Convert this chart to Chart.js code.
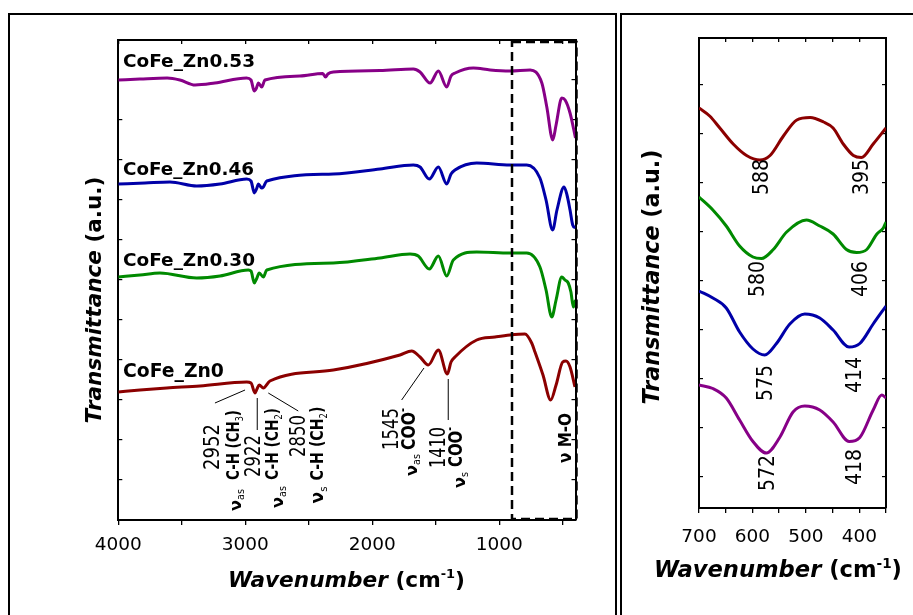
<!DOCTYPE html>
<html>
<head>
<meta charset="utf-8">
<script src="https://cdn.jsdelivr.net/npm/chart.js@4"></script>
<style>
  html, body { margin: 0; padding: 0; background: #fff; }
  #wrap { position: relative; width: 913px; height: 615px; overflow: hidden; }
  .frame { position: absolute; border: 2px solid #000; box-sizing: border-box; }
  canvas { position: absolute; top: 0; }
</style>
</head>
<body>
<div id="wrap">
  <div class="frame" style="left:8px;top:13px;width:609px;height:700px"></div>
  <div class="frame" style="left:620px;top:13px;width:400px;height:700px"></div>
  <canvas id="full" width="620" height="615" style="left:0"></canvas>
  <canvas id="zoom" width="293" height="615" style="left:620px"></canvas>
</div>
<script>
// full range spectra, wavenumber (cm-1) and transmittance (a.u.)
const zn053Wn = [4000, 3830, 3615, 3515, 3395, 3240, 2990, 2955, 2930, 2912, 2897, 2871, 2845, 2570, 2390, 2368, 2350, 2307, 1940, 1677, 1624, 1545, 1480, 1414, 1380, 1348, 1204, 1072, 915, 757, 665, 626, 579, 553, 508, 482, 443, 400];
const zn053T = [440, 441, 442, 440, 435, 437, 442, 440, 429, 432, 437, 433, 440, 444, 446.5, 443, 446, 448, 449.5, 451, 448, 437, 449, 433, 444, 447, 452, 450, 449, 450, 437, 413, 380, 395, 422, 420, 407, 382];

const zn046Wn = [4000, 3790, 3593, 3383, 3199, 2989, 2955, 2929, 2912, 2897, 2872, 2858, 2831, 2307, 1939, 1677, 1624, 1551, 1480, 1414, 1380, 1349, 1178, 916, 784, 680, 632, 580, 546, 490, 467, 443, 422, 400];
const zn046T = [336, 337, 338, 334, 336, 341, 339, 327, 331, 336, 332, 333, 339, 346, 351, 355, 353, 341, 353, 336, 346, 350, 357, 355, 355, 342, 320, 290, 310, 333, 325, 310, 295, 292];

const zn030Wn = [4000, 3829, 3672, 3383, 3199, 2976, 2955, 2929, 2912, 2890, 2858, 2831, 2307, 1939, 1703, 1638, 1551, 1480, 1414, 1362, 1178, 916, 784, 680, 632, 587, 553, 508, 483, 457, 436, 417, 400];
const zn030T = [243, 245, 247, 242, 244, 250, 249, 237, 241, 247, 243, 250, 257, 262, 266, 264, 251, 264, 244, 260, 268, 267, 267, 253, 230, 203, 220, 243, 240, 237, 228, 213, 220];

const zn0Wn = [4000, 3829, 3619, 3357, 2989, 2955, 2924, 2908, 2890, 2858, 2806, 2307, 1782, 1690, 1624, 1559, 1480, 1409, 1380, 1349, 1178, 1034, 916, 798, 745, 719, 656, 595, 553, 501, 475, 443, 404];
const zn0T = [128, 130, 132, 134, 138, 137, 127, 131, 135, 132, 139, 150, 165, 169, 163, 155, 170, 146, 158, 163, 180, 183, 185, 186, 177, 168, 145, 120, 135, 158, 159, 153, 133];

// M-O region (700-350 cm-1)
const mo0Wn = [700, 680, 661, 636, 611, 586, 567, 542, 517, 492, 467, 449, 430, 411, 396, 374, 350];
const mo0T = [400, 392, 380, 364, 352.5, 348, 352.5, 372, 388, 390.5, 386, 380, 364, 352.5, 350.5, 364, 380];
const mo030Wn = [700, 674, 649, 624, 599, 583, 561, 536, 499, 474, 449, 424, 405, 386, 367, 355, 350];
const mo030T = [311, 298, 282, 262, 251, 249.5, 258.5, 276, 288, 282, 274, 258.5, 255.5, 258.5, 274, 280, 286];
const mo046Wn = [700, 674, 649, 624, 599, 577, 555, 530, 502, 474, 449, 419, 399, 374, 350];
const mo046T = [217, 210, 200, 176, 159, 153, 164.5, 184, 194, 190, 178, 161, 164.5, 184, 202];
const mo053Wn = [700, 674, 649, 624, 599, 574, 549, 524, 502, 474, 449, 419, 399, 374, 358, 350];
const mo053T = [123, 119.5, 110, 88, 66.5, 55, 70.5, 96, 102, 98, 86, 66.5, 70.5, 98, 113, 110];

const sampleNames = ['CoFe_Zn0', 'CoFe_Zn0.30', 'CoFe_Zn0.46', 'CoFe_Zn0.53'];

// axis ticks
const fullTicks = [4000, 3500, 3000, 2500, 2000, 1500, 1000, 500];
const fullTickLabels = [4000, 3000, 2000, 1000];
const zoomTicks = [700, 650, 600, 550, 500, 450, 400, 350];
const zoomTickLabels = [700, 600, 500, 400];
const fullYTicks = [40, 80, 120, 160, 200, 240, 280, 320, 360, 400, 440];
const zoomYTicks = [31, 80, 129, 178, 227, 276, 325, 374, 423];

const colors = ['#8b0000', '#008a00', '#0000a8', '#870087'];
const FONT = '"DejaVu Sans", sans-serif';

function pts(wn, t) {
  return wn.map((w, i) => ({ x: w, y: t[i] }));
}

function line(wn, t, color) {
  return {
    data: pts(wn, t),
    borderColor: color,
    borderWidth: 3,
    pointRadius: 0,
    cubicInterpolationMode: 'monotone'
  };
}

// text helpers (sub / superscripts, rotated labels)
const N = t => ({ t: t });
const B = t => ({ t: t, weight: 'bold' });
const I = t => ({ t: t, weight: 'bold', style: 'italic' });
const SUB = t => ({ t: t, sub: true });
const SUP = t => ({ t: t, sup: true, weight: 'bold' });

function setFont(ctx, s, size) {
  const sz = (s.sub || s.sup) ? size * 0.6 : size;
  ctx.font = (s.style || 'normal') + ' ' + (s.weight || 'normal') + ' ' + sz + 'px ' + FONT;
}

function richWidth(ctx, segs, size) {
  let w = 0;
  segs.forEach(s => { setFont(ctx, s, size); w += ctx.measureText(s.t).width; });
  return w;
}

// len = text length on screen, hgt = cap height (optional, stretches glyphs)
function drawRich(ctx, segs, x, y, len, rotate, align, hgt) {
  const size = 20 * len / richWidth(ctx, segs, 20);
  const w = richWidth(ctx, segs, size);
  const k = hgt ? hgt / (0.73 * size) : 1;
  ctx.save();
  ctx.translate(x, y);
  if (rotate) ctx.rotate(-Math.PI / 2);
  ctx.scale(1, k);
  ctx.fillStyle = '#000';
  ctx.textAlign = 'left';
  ctx.textBaseline = 'alphabetic';
  let cx = align === 'left' ? 0 : -w / 2;
  const base = size * 0.36;
  segs.forEach(s => {
    setFont(ctx, s, size);
    const dy = s.sub ? size * 0.22 : (s.sup ? -size * 0.42 : 0);
    ctx.fillText(s.t, cx, base + dy);
    cx += ctx.measureText(s.t).width;
  });
  ctx.restore();
}

// annotations: [wavenumber, T, length, cap height, segments]
const fullNotes = [
  [3265, 73, 46, 15, [N('2952')]],
  [3097, 75, 70, 13, [B('C-H (CH'), SUB('3'), B(')')]],
  [3081, 20, 22, 0, [B('ν'), SUB('as')]],
  [2939, 64, 42, 15, [N('2922')]],
  [2792, 76, 72, 13, [B('C-H (CH'), SUB('2'), B(')')]],
  [2750, 23, 22, 0, [B('ν'), SUB('as')]],
  [2585, 84, 42, 15, [N('2850')]],
  [2435, 76.5, 74, 13, [B('C-H (CH'), SUB('2'), B(')')]],
  [2435, 25, 17, 0, [B('ν'), SUB('s')]],
  [1853, 91, 42, 15, [N('1545')]],
  [1719, 91, 42, 14, [B('COO'), SUP('-')]],
  [1696, 55, 22, 0, [B('ν'), SUB('as')]],
  [1487, 72.5, 41, 15, [N('1410')]],
  [1345, 73, 40, 14, [B('COO'), SUP('-')]],
  [1317, 40, 16, 0, [B('ν'), SUB('s')]],
  [483, 82, 50, 13, [B('ν M-O')]]
];
const fullLeaders = [
  [3239, 117, 3002, 130],
  [2906, 122, 2906, 90],
  [2819, 127, 2583, 109],
  [1593, 152, 1769, 120],
  [1402, 141, 1402, 100]
];
// sample names: [T, length]
const nameSpots = [[149.5, 101], [261, 132], [352, 131], [459.5, 132]];

const zoomNotes = [
  [586, 331, 36, 16, [N('588')]],
  [399, 331, 36, 16, [N('395')]],
  [593, 229, 36, 16, [N('580')]],
  [400.5, 229, 36, 16, [N('406')]],
  [578, 125, 36, 16, [N('575')]],
  [412, 133, 36, 16, [N('414')]],
  [574, 35, 36, 16, [N('572')]],
  [412, 41, 36, 16, [N('418')]]
];

const yTitle = [I('Transmittance'), B(' (a.u.)')];
const xTitle = [I('Wavenumber'), B(' (cm'), SUP('-1'), B(')')];

function scaleX(min, max, ticks, labels, pos, size, tl, pad) {
  return {
    type: 'linear', axis: 'x', position: pos, min: min, max: max, reverse: true,
    afterBuildTicks: s => { s.ticks = ticks.map(v => ({ value: v })); },
    afterFit: s => { s.height = size; },
    grid: { drawOnChartArea: false, color: '#000', lineWidth: 1.3, tickLength: tl },
    border: { display: true, color: '#000', width: 2 },
    ticks: {
      display: labels !== null, autoSkip: false, maxRotation: 0, padding: pad, color: '#000',
      font: { family: FONT, size: 18.5 },
      callback: v => (labels && labels.includes(v)) ? String(v) : ''
    }
  };
}

function scaleY(min, max, ticks, pos, size) {
  return {
    type: 'linear', axis: 'y', position: pos, min: min, max: max,
    afterBuildTicks: s => { s.ticks = ticks.map(v => ({ value: v })); },
    afterFit: s => { s.width = size; },
    grid: { drawOnChartArea: false, color: '#000', lineWidth: 1.2, tickLength: -4 },
    border: { display: true, color: '#000', width: 2 },
    ticks: { display: false }
  };
}

const fullDecor = {
  id: 'fullDecor',
  afterDatasetsDraw(chart) {
    const ctx = chart.ctx, sx = chart.scales.x, sy = chart.scales.y;
    // dashed M-O box
    ctx.save();
    ctx.strokeStyle = '#000';
    ctx.lineWidth = 2.5;
    ctx.setLineDash([9, 5]);
    const bx1 = sx.getPixelForValue(900), bx2 = sx.getPixelForValue(400) + 1;
    const by1 = sy.getPixelForValue(478), by2 = sy.getPixelForValue(1);
    ctx.strokeRect(bx1, by1, bx2 - bx1, by2 - by1);
    ctx.restore();
    // leader lines
    ctx.save();
    ctx.strokeStyle = '#000';
    ctx.lineWidth = 1;
    fullLeaders.forEach(l => {
      ctx.beginPath();
      ctx.moveTo(sx.getPixelForValue(l[0]), sy.getPixelForValue(l[1]));
      ctx.lineTo(sx.getPixelForValue(l[2]), sy.getPixelForValue(l[3]));
      ctx.stroke();
    });
    ctx.restore();
    fullNotes.forEach(n => drawRich(ctx, n[4], sx.getPixelForValue(n[0]), sy.getPixelForValue(n[1]), n[2], true, 'center', n[3]));
    sampleNames.forEach((name, i) => {
      drawRich(ctx, [B(name)], sx.getPixelForValue(3963), sy.getPixelForValue(nameSpots[i][0]), nameSpots[i][1], false, 'left');
    });
    drawRich(ctx, yTitle, 93, 300, 247, true);
    drawRich(ctx, xTitle, 346.5, 579, 237, false);
  }
};

const zoomDecor = {
  id: 'zoomDecor',
  afterDatasetsDraw(chart) {
    const ctx = chart.ctx, sx = chart.scales.x, sy = chart.scales.y;
    zoomNotes.forEach(n => drawRich(ctx, n[4], sx.getPixelForValue(n[0]), sy.getPixelForValue(n[1]), n[2], true, 'center', n[3]));
    drawRich(ctx, yTitle, 31, 277, 255, true);
    drawRich(ctx, xTitle, 158, 569, 248, false);
  }
};

const common = {
  responsive: false, animation: false, devicePixelRatio: 1,
  layout: { padding: 0 },
  plugins: { legend: { display: false }, tooltip: { enabled: false } }
};

new Chart(document.getElementById('full'), {
  type: 'line',
  data: {
    datasets: [
      line(zn0Wn, zn0T, colors[0]),
      line(zn030Wn, zn030T, colors[1]),
      line(zn046Wn, zn046T, colors[2]),
      line(zn053Wn, zn053T, colors[3])
    ]
  },
  options: Object.assign({}, common, {
    scales: {
      x: scaleX(400, 4000, fullTicks, fullTickLabels, 'bottom', 95, 5, 9),
      xTop: scaleX(400, 4000, fullTicks, null, 'top', 40, -4, 0),
      y: scaleY(0, 480, fullYTicks, 'left', 118.3),
      yRight: scaleY(0, 480, fullYTicks, 'right', 44.5)
    }
  }),
  plugins: [fullDecor]
});

new Chart(document.getElementById('zoom'), {
  type: 'line',
  data: {
    datasets: [
      line(mo0Wn, mo0T, colors[0]),
      line(mo030Wn, mo030T, colors[1]),
      line(mo046Wn, mo046T, colors[2]),
      line(mo053Wn, mo053T, colors[3])
    ]
  },
  options: Object.assign({}, common, {
    scales: {
      x: scaleX(350, 700, zoomTicks, zoomTickLabels, 'bottom', 107, 5, 13),
      xTop: scaleX(350, 700, zoomTicks, null, 'top', 38, -4, 0),
      y: scaleY(0, 470, zoomYTicks, 'left', 79),
      yRight: scaleY(0, 470, zoomYTicks, 'right', 27)
    }
  }),
  plugins: [zoomDecor]
});
</script>
</body>
</html>
